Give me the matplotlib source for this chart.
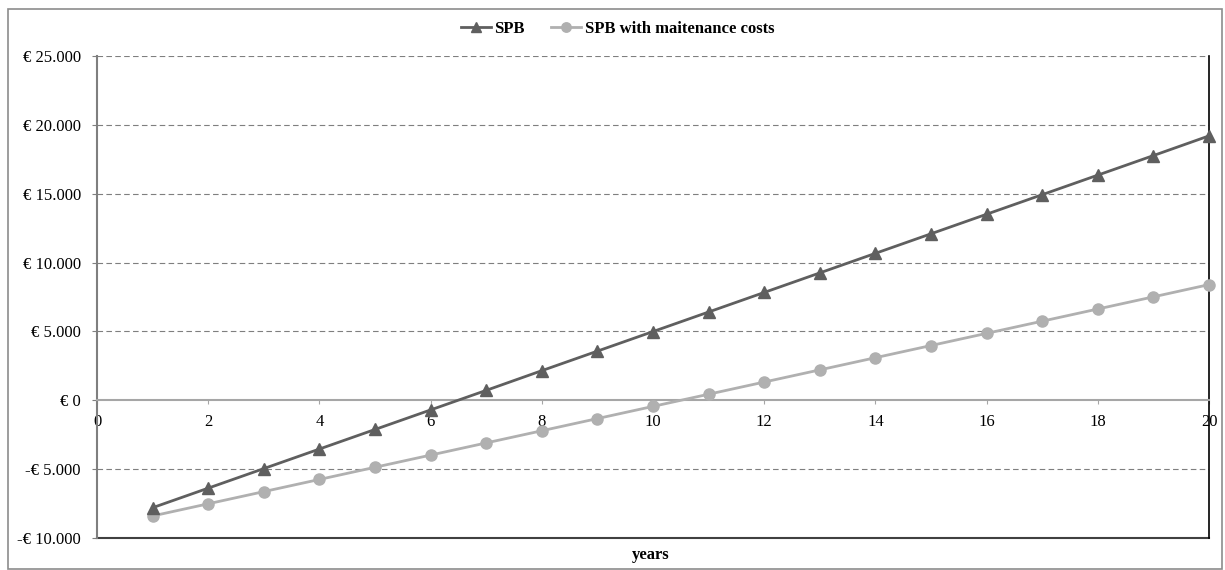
import matplotlib
matplotlib.use("Agg")
import matplotlib.pyplot as plt
from matplotlib.patches import Rectangle
from matplotlib.ticker import FuncFormatter, MultipleLocator

years = list(range(1, 21))
spb = [-7800, -6380, -4960, -3540, -2120, -700, 720, 2150, 3570, 4990,
       6410, 7830, 9250, 10670, 12090, 13510, 14930, 16350, 17770, 19200]
spb_maint = [-8400, -7516, -6632, -5748, -4864, -3980, -3096, -2212, -1328, -444,
             440, 1324, 2208, 3092, 3976, 4860, 5744, 6628, 7512, 8400]

plt.rcParams['font.family'] = ['Liberation Serif', 'DejaVu Serif']


def euro(v, pos):
    v = int(round(v))
    s = f"{abs(v):,}".replace(",", ".")
    return f"-€ {s}" if v < 0 else f"€ {s}"


fig = plt.figure(figsize=(12.25, 5.7), dpi=100)
fig.patches.append(Rectangle((8 / 1225, 1 / 570), 1214 / 1225, 560 / 570,
                             transform=fig.transFigure, fill=False,
                             edgecolor='#8c8c8c', linewidth=1.2))
ax = fig.add_axes([97 / 1225, 32 / 570, 1112 / 1225, 482 / 570])

ax.plot(years, spb, color='#5f5f5f', lw=2, marker='^', ms=8,
        label='SPB', clip_on=False, zorder=4)
ax.plot(years, spb_maint, color='#b0b0b0', lw=2, marker='o', ms=8,
        label='SPB with maitenance costs', clip_on=False, zorder=3)

ax.set_xlim(0, 20)
ax.set_ylim(-10000, 25000)
ax.xaxis.set_major_locator(MultipleLocator(2))
ax.yaxis.set_major_locator(MultipleLocator(5000))
ax.yaxis.set_major_formatter(FuncFormatter(euro))

for y in [-5000, 5000, 10000, 15000, 20000, 25000]:
    ax.axhline(y, color='#7f7f7f', lw=0.8, ls=(0, (5, 3)), zorder=1)
ax.axhline(-10000, color='#404040', lw=1.5, zorder=2, clip_on=False)

ax.spines['top'].set_visible(False)
ax.spines['bottom'].set_position(('data', 0))
ax.spines['bottom'].set_color('#a6a6a6')
ax.spines['bottom'].set_linewidth(1.5)
ax.spines['left'].set_color('#7f7f7f')
ax.spines['left'].set_linewidth(1.5)
ax.spines['right'].set_color('black')
ax.spines['right'].set_linewidth(1.2)

ax.tick_params(axis='x', direction='out', length=3, color='#a6a6a6',
               labelsize=12, pad=7)
ax.tick_params(axis='y', direction='out', length=3.6, color='#7f7f7f',
               labelsize=12, pad=8)

ax.legend(loc='lower center', bbox_to_anchor=(0.468, 1.0), ncol=2, frameon=False,
          prop={'weight': 'bold', 'size': 12}, handlelength=1.8, markerscale=0.85,
          handletextpad=0.2, columnspacing=1.6, borderaxespad=0.75)
fig.text(0.531, 0.026, 'years', ha='center', va='center',
         fontsize=12, fontweight='bold')

fig.savefig('out.png', dpi=100)
